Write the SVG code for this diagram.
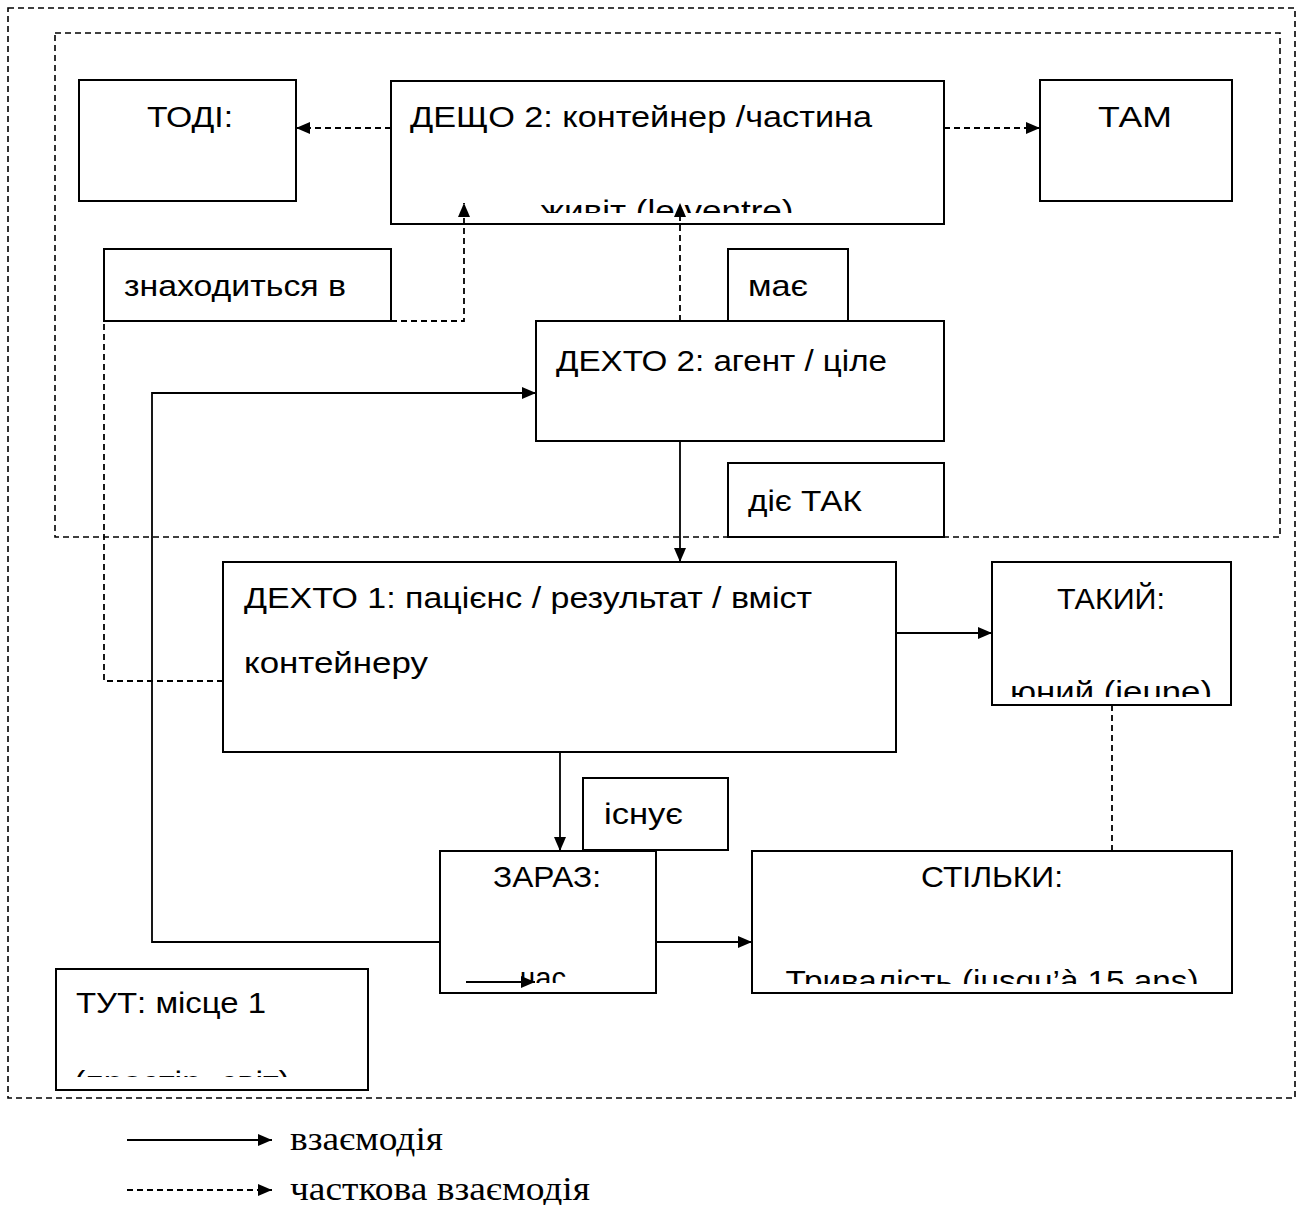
<svg xmlns="http://www.w3.org/2000/svg" width="1299" height="1205" viewBox="0 0 1299 1205">
<style>
.frame{fill:none;stroke:#000;stroke-width:1.6;stroke-dasharray:6 4}
.box{fill:#fff;stroke:#000;stroke-width:2}
.t{font-family:"Liberation Sans",Arial,sans-serif;font-size:30px;fill:#000}
.c{fill:none;stroke:#000;stroke-width:1.8}
.d{stroke-dasharray:6 4}
.lg{font-family:"Liberation Serif","Times New Roman",serif;font-size:33px;fill:#000}
</style>
<defs>
<marker id="ah" viewBox="0 0 14 12" refX="14" refY="6" markerWidth="14" markerHeight="12" markerUnits="userSpaceOnUse" orient="auto">
<path d="M0,0 L14,6 L0,12 Z" fill="#000"/>
</marker>
<clipPath id="cDeshcho"><rect x="392" y="82" width="551" height="131"/></clipPath>
<clipPath id="cTakyi"><rect x="993" y="563" width="237" height="134"/></clipPath>
<clipPath id="cZaraz"><rect x="441" y="852" width="214" height="131"/></clipPath>
<clipPath id="cSt"><rect x="753" y="852" width="478" height="132"/></clipPath>
<clipPath id="cTut"><rect x="57" y="970" width="310" height="107"/></clipPath>
</defs>

<rect class="frame" x="8" y="8" width="1287" height="1090"/>
<rect class="frame" x="55" y="33" width="1225" height="504"/>

<g id="todi"><rect class="box" x="79" y="80" width="217" height="121"/><text class="t" x="147" y="127" textLength="86" lengthAdjust="spacingAndGlyphs">ТОДІ:</text></g>
<g id="deshcho2"><rect class="box" x="391" y="81" width="553" height="143"/><text class="t" x="410" y="127" textLength="462" lengthAdjust="spacingAndGlyphs">ДЕЩО 2: контейнер /частина</text><text class="t" x="667" y="221" text-anchor="middle" textLength="253" lengthAdjust="spacingAndGlyphs" clip-path="url(#cDeshcho)">живіт (le ventre)</text></g>
<g id="tam"><rect class="box" x="1040" y="80" width="192" height="121"/><text class="t" x="1098" y="127" textLength="74" lengthAdjust="spacingAndGlyphs">ТАМ</text></g>
<g id="znakhodytsia"><rect class="box" x="104" y="249" width="287" height="72"/><text class="t" x="124" y="296" textLength="222" lengthAdjust="spacingAndGlyphs">знаходиться в</text></g>
<g id="maie"><rect class="box" x="728" y="249" width="120" height="72"/><text class="t" x="748" y="296" textLength="60" lengthAdjust="spacingAndGlyphs">має</text></g>
<g id="dekhto2"><rect class="box" x="536" y="321" width="408" height="120"/><text class="t" x="556" y="371" textLength="331" lengthAdjust="spacingAndGlyphs">ДЕХТО 2: агент / ціле</text></g>
<g id="diie"><rect class="box" x="728" y="463" width="216" height="74"/><text class="t" x="748" y="511" textLength="114" lengthAdjust="spacingAndGlyphs">діє ТАК</text></g>
<g id="dekhto1"><rect class="box" x="223" y="562" width="673" height="190"/><text class="t" x="244" y="608" textLength="568" lengthAdjust="spacingAndGlyphs">ДЕХТО 1: пацієнс / результат / вміст</text><text class="t" x="244" y="673" textLength="184" lengthAdjust="spacingAndGlyphs">контейнеру</text></g>
<g id="takyi"><rect class="box" x="992" y="562" width="239" height="143"/><text class="t" x="1111" y="609" text-anchor="middle" textLength="108" lengthAdjust="spacingAndGlyphs">ТАКИЙ:</text><text class="t" x="1111" y="702" text-anchor="middle" textLength="202" lengthAdjust="spacingAndGlyphs" clip-path="url(#cTakyi)">юний (jeune)</text></g>
<g id="isnuie"><rect class="box" x="583" y="778" width="145" height="72"/><text class="t" x="604" y="824" textLength="79" lengthAdjust="spacingAndGlyphs">існує</text></g>
<g id="zaraz"><rect class="box" x="440" y="851" width="216" height="142"/><text class="t" x="547" y="887" text-anchor="middle" textLength="108" lengthAdjust="spacingAndGlyphs">ЗАРАЗ:</text><text class="t" x="543" y="988" text-anchor="middle" textLength="46" lengthAdjust="spacingAndGlyphs" clip-path="url(#cZaraz)">час</text></g>
<g id="stilky"><rect class="box" x="752" y="851" width="480" height="142"/><text class="t" x="992" y="887" text-anchor="middle" textLength="142" lengthAdjust="spacingAndGlyphs">СТІЛЬКИ:</text><text class="t" x="992" y="991" text-anchor="middle" textLength="413" lengthAdjust="spacingAndGlyphs" clip-path="url(#cSt)">Тривалість (jusqu’à 15 ans)</text></g>
<g id="tut"><rect class="box" x="56" y="969" width="312" height="121"/><text class="t" x="76" y="1013" textLength="190" lengthAdjust="spacingAndGlyphs">ТУТ: місце 1</text><text class="t" x="74" y="1092" textLength="216" lengthAdjust="spacingAndGlyphs" clip-path="url(#cTut)">(простір, світ)</text></g>

<g id="connectors">
<path class="c d" d="M391,128 H296" marker-end="url(#ah)"/>
<path class="c d" d="M944,128 H1040" marker-end="url(#ah)"/>
<path class="c d" d="M391,321 H464 V203" marker-end="url(#ah)"/>
<path class="c d" d="M223,681 H104 V321"/>
<path class="c d" d="M680,321 V203" marker-end="url(#ah)"/>
<path class="c" d="M680,441 V562" marker-end="url(#ah)"/>
<path class="c" d="M440,942 H152 V393 H536" marker-end="url(#ah)"/>
<path class="c" d="M896,633 H992" marker-end="url(#ah)"/>
<path class="c" d="M560,752 V851" marker-end="url(#ah)"/>
<path class="c" d="M656,942 H752" marker-end="url(#ah)"/>
<path class="c d" d="M1112,705 V851"/>
<path class="c" d="M466,982 H535" marker-end="url(#ah)"/>
</g>

<g id="legend">
<path class="c" d="M127,1140 H272" marker-end="url(#ah)"/>
<text class="lg" x="290" y="1150" textLength="153" lengthAdjust="spacingAndGlyphs">взаємодія</text>
<path class="c d" d="M127,1190 H272" marker-end="url(#ah)"/>
<text class="lg" x="290" y="1200" textLength="300" lengthAdjust="spacingAndGlyphs">часткова взаємодія</text>
</g>
</svg>
